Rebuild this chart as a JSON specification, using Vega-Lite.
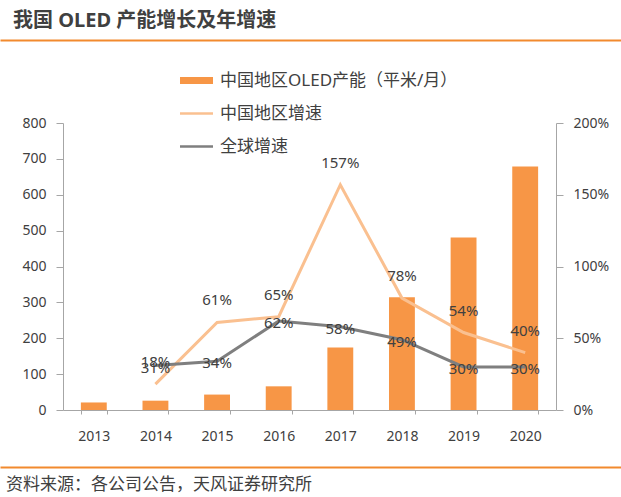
{
  "$schema": "https://vega.github.io/schema/vega-lite/v6.json",
  "padding": {"left": 0, "right": 0, "top": 10, "bottom": 0},
  "spacing": 18,
  "config": {
    "font": "Noto Sans, Noto Sans CJK SC",
    "view": {"stroke": null},
    "axis": {"grid": false, "domainColor": "#A6A6A6", "tickColor": "#A6A6A6", "labelColor": "#404040", "labelFontSize": 14},
    "title": {"color": "#404040"}
  },
  "datasets": {
    "cap": [
      {"year": "2013", "series": "中国地区OLED产能（平米/月）", "value": 21},
      {"year": "2014", "series": "中国地区OLED产能（平米/月）", "value": 26},
      {"year": "2015", "series": "中国地区OLED产能（平米/月）", "value": 43},
      {"year": "2016", "series": "中国地区OLED产能（平米/月）", "value": 66},
      {"year": "2017", "series": "中国地区OLED产能（平米/月）", "value": 174},
      {"year": "2018", "series": "中国地区OLED产能（平米/月）", "value": 314},
      {"year": "2019", "series": "中国地区OLED产能（平米/月）", "value": 481},
      {"year": "2020", "series": "中国地区OLED产能（平米/月）", "value": 679}
    ],
    "growth": [
      {"year": "2014", "series": "中国地区增速", "growth": 0.18},
      {"year": "2015", "series": "中国地区增速", "growth": 0.61},
      {"year": "2016", "series": "中国地区增速", "growth": 0.65},
      {"year": "2017", "series": "中国地区增速", "growth": 1.57},
      {"year": "2018", "series": "中国地区增速", "growth": 0.78},
      {"year": "2019", "series": "中国地区增速", "growth": 0.54},
      {"year": "2020", "series": "中国地区增速", "growth": 0.40},
      {"year": "2014", "series": "全球增速", "growth": 0.31},
      {"year": "2015", "series": "全球增速", "growth": 0.34},
      {"year": "2016", "series": "全球增速", "growth": 0.62},
      {"year": "2017", "series": "全球增速", "growth": 0.58},
      {"year": "2018", "series": "全球增速", "growth": 0.49},
      {"year": "2019", "series": "全球增速", "growth": 0.30},
      {"year": "2020", "series": "全球增速", "growth": 0.30}
    ],
    "frame": [{"v": 0}]
  },
  "vconcat": [
    {
      "width": 493,
      "height": 1,
      "data": {"name": "frame"},
      "mark": {"type": "text"},
      "encoding": {
        "x": {"field": "v", "type": "quantitative", "title": null,
          "scale": {"domain": [0, 1], "range": [-63, 558]},
          "axis": {"orient": "bottom", "labels": false, "ticks": false, "domainColor": "#F28A2E", "domainWidth": 2}},
        "text": {"value": ""}
      },
      "title": {"text": "我国 OLED 产能增长及年增速", "anchor": "start", "fontSize": 20, "fontWeight": "bold", "color": "#404040", "dx": 13, "offset": 3}
    },
    {
      "width": 493,
      "height": 287,
      "title": {"text": ".", "color": "transparent", "fontSize": 10, "offset": 43},
      "layer": [
        {
          "data": {"name": "cap"},
          "mark": {"type": "bar", "color": "#F79646"},
          "encoding": {
            "x": {"field": "year", "type": "nominal", "title": null,
              "scale": {"paddingInner": 0.58, "paddingOuter": 0.29},
              "axis": {"labelAngle": 0, "tickBand": "extent", "tickSize": 4, "labelPadding": 15, "labelFontSize": 14}},
            "y": {"field": "value", "type": "quantitative", "title": null,
              "scale": {"domain": [0, 800], "nice": false},
              "axis": {"values": [0, 100, 200, 300, 400, 500, 600, 700, 800], "tickSize": 7, "labelPadding": 10, "minExtent": 63}},
            "color": {"field": "series", "type": "nominal",
              "scale": {"domain": ["中国地区OLED产能（平米/月）", "中国地区增速", "全球增速"], "range": ["#F79646", "#FAC090", "#7F7F7F"]},
              "legend": {"title": null, "orient": "none", "legendX": 117, "legendY": 25, "symbolSize": 1089, "symbolStrokeWidth": 0,
                "labelFontSize": 17, "labelColor": "#404040", "labelOffset": 7, "labelLimit": 600, "rowPadding": 8, "padding": 0,
                "encode": {"symbols": {"update": {
                  "shape": {"signal": "datum.index === 0 ? 'M-1,-0.21H1V0.21H-1Z' : 'M-1,-0.08H1V0.08H-1Z'"},
                  "fill": {"scale": "color", "field": "value"},
                  "stroke": {"value": "transparent"},
                  "opacity": {"value": 1}
                }}}}
            }
          }
        },
        {
          "layer": [
            {
              "data": {"name": "growth"},
              "mark": {"type": "line", "strokeWidth": 3},
              "encoding": {
                "x": {"field": "year", "type": "nominal", "title": null},
                "y": {"field": "growth", "type": "quantitative", "title": null,
                  "scale": {"domain": [0, 2], "nice": false},
                  "axis": {"orient": "right", "values": [0, 0.5, 1, 1.5, 2], "format": ".0%", "tickSize": 7, "labelPadding": 10}},
                "color": {"field": "series", "type": "nominal"}
              }
            },
            {
              "data": {"name": "growth"},
              "transform": [{"filter": "datum.series === '中国地区增速'"}],
              "mark": {"type": "text", "dy": -22, "fontSize": 15, "color": "#404040"},
              "encoding": {
                "x": {"field": "year", "type": "nominal"},
                "y": {"field": "growth", "type": "quantitative"},
                "text": {"field": "growth", "type": "quantitative", "format": ".0%"}
              }
            },
            {
              "data": {"name": "growth"},
              "transform": [{"filter": "datum.series === '全球增速'"}],
              "mark": {"type": "text", "dy": 2, "fontSize": 15, "color": "#404040"},
              "encoding": {
                "x": {"field": "year", "type": "nominal"},
                "y": {"field": "growth", "type": "quantitative"},
                "text": {"field": "growth", "type": "quantitative", "format": ".0%"}
              }
            }
          ]
        }
      ],
      "resolve": {"scale": {"y": "independent"}}
    },
    {
      "width": 493,
      "height": 1,
      "data": {"name": "frame"},
      "mark": {"type": "text"},
      "encoding": {
        "x": {"field": "v", "type": "quantitative", "title": null,
          "scale": {"domain": [0, 1], "range": [-63, 558]},
          "axis": {"orient": "top", "labels": false, "ticks": false, "domainColor": "#F28A2E", "domainWidth": 2}},
        "text": {"value": ""}
      },
      "title": {"text": "资料来源：各公司公告，天风证券研究所", "orient": "bottom", "anchor": "start", "fontSize": 17, "fontWeight": "normal", "color": "#404040", "dx": 6, "offset": 4}
    }
  ]
}
